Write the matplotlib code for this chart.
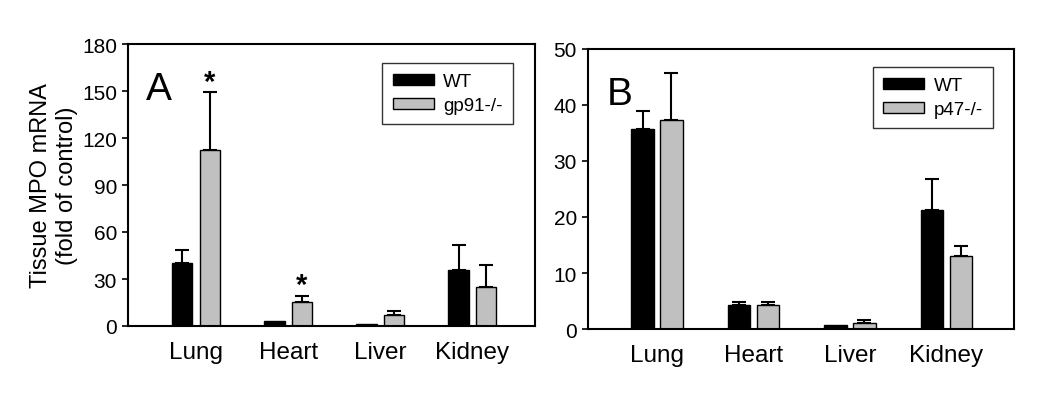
import matplotlib
matplotlib.use("Agg")
import matplotlib.pyplot as plt
from matplotlib.patches import Patch
import numpy as np

plt.rcParams['font.family'] = ['Liberation Sans', 'DejaVu Sans']

categories = ["Lung", "Heart", "Liver", "Kidney"]

# Panel A
a_wt = [39.9, 3.4, 1.1, 35.8]
a_wt_err = [8.3, 0.0, 0.0, 16.0]
a_ko = [112.6, 15.6, 7.0, 25.2]
a_ko_err = [36.6, 3.6, 2.6, 14.0]
a_ko_label = "gp91-/-"
a_yticks = [0, 30, 60, 90, 120, 150, 180]
a_stars = [0, 1]  # categories with * over knockout bar

# Panel B
b_wt = [35.8, 4.35, 0.7, 21.25]
b_wt_err = [3.2, 0.45, 0.0, 5.55]
b_ko = [37.4, 4.2, 1.1, 13.0]
b_ko_err = [8.3, 0.6, 0.5, 1.9]
b_ko_label = "p47-/-"
b_yticks = [0, 10, 20, 30, 40, 50]

GRAY = "#c0c0c0"

fig = plt.figure(figsize=(10.5, 4.1), dpi=100)
W, H = 1050, 410
axA = fig.add_axes([128 / W, 1 - 327 / H, (535 - 128) / W, (327 - 45) / H])
axB = fig.add_axes([588 / W, 1 - 330 / H, (1014 - 588) / W, (330 - 50) / H])


def draw(ax, wt, wt_err, ko, ko_err, ko_label, yticks, letter, xlim, bw, off, leg_anchor):
    x = np.arange(len(categories))
    ax.bar(x - off, wt, bw, color="black", edgecolor="black", linewidth=1, zorder=2)
    ax.bar(x + off, ko, bw, color=GRAY, edgecolor="black", linewidth=1, zorder=2)
    for xs, vals, errs in ((x - off, wt, wt_err), (x + off, ko, ko_err)):
        for xi, v, e in zip(xs, vals, errs):
            if e > 0:
                ax.errorbar([xi], [v], yerr=[[0], [e]], fmt="none", ecolor="black",
                            elinewidth=1.5, capsize=5, capthick=1.5, zorder=1)
    ax.set_xlim(*xlim)
    ax.set_ylim(yticks[0], yticks[-1])
    ax.set_yticks(yticks)
    ax.set_xticks(x)
    ax.set_xticklabels(categories, fontsize=17.5)
    ax.tick_params(axis="x", length=0, pad=11)
    ax.tick_params(axis="y", length=4, width=1.2, labelsize=15, direction="out", pad=4)
    for s in ax.spines.values():
        s.set_linewidth(1.5)
    ax.text(0.045, 0.84, letter, transform=ax.transAxes, fontsize=28, va="center", ha="left")
    handles = [Patch(facecolor="black", edgecolor="black", label="WT"),
               Patch(facecolor=GRAY, edgecolor="black", label=ko_label)]
    leg = ax.legend(handles=handles, loc="upper right", bbox_to_anchor=leg_anchor,
                    fontsize=13.5, frameon=True, fancybox=False, handlelength=2.2,
                    handleheight=0.5, borderpad=0.55, labelspacing=0.35, handletextpad=0.5,
                    borderaxespad=0)
    leg.get_frame().set_edgecolor("black")
    leg.get_frame().set_linewidth(1.0)
    return x


xA = draw(axA, a_wt, a_wt_err, a_ko, a_ko_err, a_ko_label, a_yticks, "A",
          (-0.74, 3.68), 0.22, 0.15, ((513 - 128) / 407, (327 - 64) / 282))
for i in a_stars:
    axA.annotate("*", (xA[i] + 0.15, a_ko[i] + a_ko_err[i]), xytext=(0, 2),
                 textcoords="offset points", ha="center", va="baseline",
                 fontsize=21, fontweight="bold")
axA.set_ylabel("Tissue MPO mRNA\n(fold of control)", fontsize=17, labelpad=3,
               linespacing=1.22)

draw(axB, b_wt, b_wt_err, b_ko, b_ko_err, b_ko_label, b_yticks, "B",
     (-0.715, 3.70), 0.23, 0.15, ((993 - 588) / 426, (330 - 68) / 280))

fig.savefig("out.png", dpi=100)
